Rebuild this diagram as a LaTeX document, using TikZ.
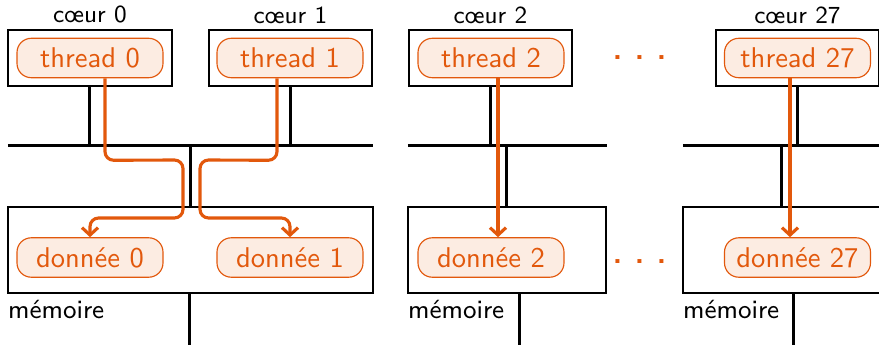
\documentclass[tikz,border=0pt]{standalone}
\usetikzlibrary{arrows.meta,calc}
\definecolor{orng}{RGB}{226,88,12}
\definecolor{orngfill}{RGB}{252,236,226}
\tikzset{
  corebox/.style={draw=black,line width=0.7pt,minimum width=57.4pt,minimum height=19.6pt,inner sep=0pt},
  membox/.style={draw=black,line width=0.7pt,minimum height=30.1pt,inner sep=0pt},
  task/.style={draw=orng,fill=orngfill,text=orng,line width=0.4pt,rounded corners=5pt,
    minimum width=51.1pt,minimum height=13.8pt,inner sep=0pt,font=\sffamily},
  bus/.style={line width=1.05pt},
  arr/.style={draw=orng,line width=1.1pt,rounded corners=3pt,-{Straight Barb[length=2.6pt,width=5.6pt]}},
  corelab/.style={font=\sffamily\fontsize{8.6}{10}\selectfont,inner sep=1.8pt,anchor=south},
  memlab/.style={font=\sffamily\fontsize{9.2}{11}\selectfont,anchor=north west,inner xsep=0.2pt,inner ysep=2pt},
  dotslab/.style={font=\sffamily\LARGE,text=orng,inner sep=0pt,anchor=base}
}
\begin{document}
\begin{tikzpicture}[x=0.35pt,y=-0.35pt]
\useasboundingbox (0,0) rectangle (879,345);
\clip (0,0) rectangle (879,345);
% cores
\node[corebox] (c0) at (90,58) {};
\node[corebox] (c1) at (290.5,58) {};
\node[corebox] (c2) at (490.5,58) {};
\node[corebox] (c27) at (797.5,58) {};
\node[corelab] at (c0.north) {cœur 0};
\node[corelab] at (c1.north) {cœur 1};
\node[corelab] at (c2.north) {cœur 2};
\node[corelab] at (c27.north) {cœur 27};
% threads
\node[task] (t0) at (90,58) {thread 0};
\node[task] (t1) at (290,58) {thread 1};
\node[task] (t2) at (491,58) {thread 2};
\node[task] (t27) at (797.5,58) {thread 27};
% memories
\node[membox,minimum width=127.75pt] (m0) at (190.5,250) {};
\node[membox,minimum width=69.3pt] (m2) at (507,250) {};
\node[membox,minimum width=69.3pt] (m27) at (782,250) {};
\node[memlab] at (m0.south west) {mémoire};
\node[memlab] at (m2.south west) {mémoire};
\node[memlab] at (m27.south west) {mémoire};
% data
\node[task] (d0) at (90,257.5) {donnée 0};
\node[task] (d1) at (290,257.5) {donnée 1};
\node[task] (d2) at (491,257.5) {donnée 2};
\node[task] (d27) at (797.5,257.5) {donnée 27};
% buses
\coordinate (b0w) at (8,146); \coordinate (b0e) at (373,146);
\coordinate (b2w) at (408,146); \coordinate (b2e) at (607,146);
\coordinate (b27w) at (683,146); \coordinate (b27e) at (885,146);
\draw[bus] (b0w) -- (b0e);
\draw[bus] (b2w) -- (b2e);
\draw[bus] (b27w) -- (b27e);
% core to bus
\draw[bus] (c0.south) -- (c0.south |- b0w);
\draw[bus] (c1.south) -- (c1.south |- b0w);
\draw[bus] ($(c2.south)+(0.5,0)$) -- ($(c2.south |- b2w)+(0.5,0)$);
\draw[bus] (c27.south) -- (c27.south |- b27w);
% bus to memory
\draw[bus] (m0.north) -- (m0.north |- b0w);
\draw[bus] (m2.north) -- (m2.north |- b2w);
\draw[bus] (m27.north) -- (m27.north |- b27w);
% memory downward
\coordinate (e0) at (190,345); \coordinate (e2) at (520,345); \coordinate (e27) at (794,345);
\draw[bus] (m0.south -| e0) -- (e0);
\draw[bus] (m2.south -| e2) -- (e2);
\draw[bus] (m27.south -| e27) -- (e27);
% arrows
\draw[arr] ($(t0.south)+(15,0)$) -- ++(0,82) -- (183,160) -- (183,218) -- (90,218) -- (d0.north);
\draw[arr] ($(t1.south)+(-13,0)$) -- ++(0,82) -- (200,160) -- (200,218) -- (290,218) -- (d1.north);
\draw[arr] ($(t2.south)+(7,0)$) -- ($(d2.north)+(7,0)$);
\draw[arr] ($(t27.south)+(-7.5,0)$) -- ($(d27.north)+(-7.5,0)$);
% dots
\node[dotslab] (dt) at (640,60) {.\kern3.2pt.\kern3.2pt.};
\node[dotslab] (db) at (640,264) {.\kern3.2pt.\kern3.2pt.};
\end{tikzpicture}
\end{document}
